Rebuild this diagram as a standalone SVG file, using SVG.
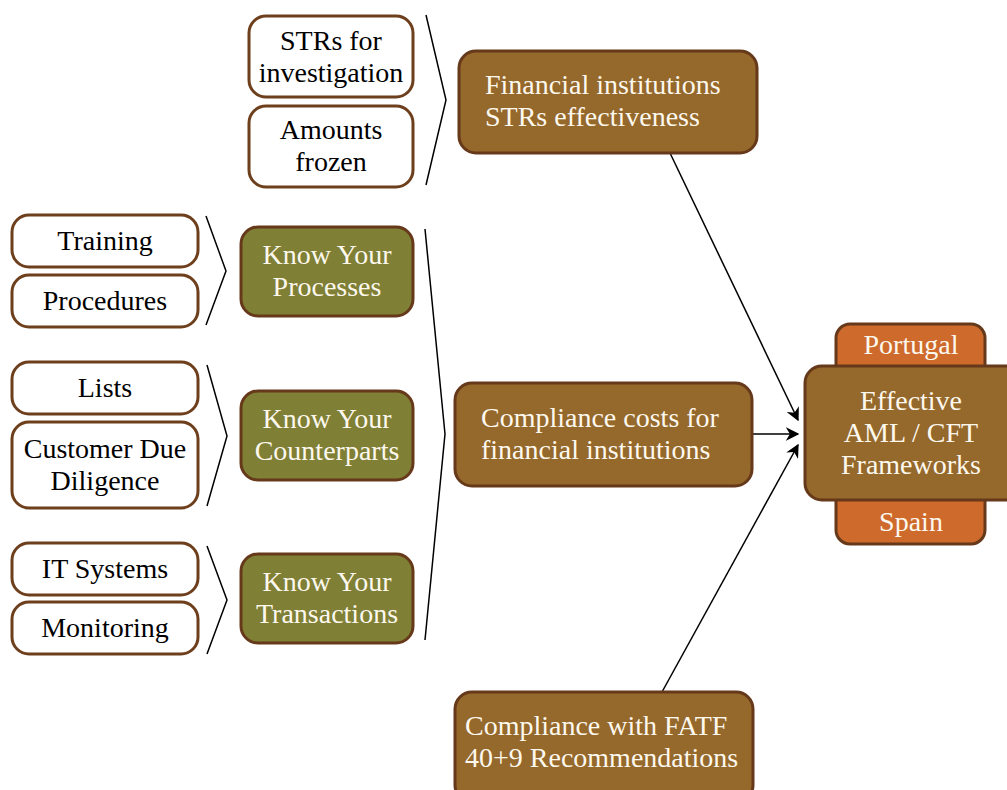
<svg xmlns="http://www.w3.org/2000/svg" width="1007" height="790" viewBox="0 0 1007 790">
<defs>
<style>
.w{fill:#ffffff;stroke:#6e3f1c;stroke-width:3}
.b{fill:#95682b;stroke:#66391a;stroke-width:3}
.g{fill:#7f7f35;stroke:#66391a;stroke-width:3}
.o{fill:#cd6a2c;stroke:#66391a;stroke-width:3}
text{font-family:"Liberation Serif","Times New Roman",serif;font-size:28px}
.tk{fill:#000000;text-anchor:middle}
.tw{fill:#fdf8ee;text-anchor:middle}
.tl{fill:#fdf8ee;text-anchor:start}
.br{fill:none;stroke:#000000;stroke-width:1.5}
.ar{fill:none;stroke:#000000;stroke-width:1.5;marker-end:url(#ah)}
</style>
<marker id="ah" viewBox="0 0 10 10" refX="9" refY="5" markerWidth="9" markerHeight="9" orient="auto" markerUnits="strokeWidth">
<path d="M0,0 L10,5 L0,10 L3,5 z" fill="#000000"/>
</marker>
</defs>
<rect width="1007" height="790" fill="#ffffff"/>

<g id="connectors">
<polyline class="br" points="426,15 446,100 426,185"/>
<polyline class="br" points="206,216 226,271 206,325"/>
<polyline class="br" points="207,365 227,436 207,506"/>
<polyline class="br" points="207,546 227,600 207,654"/>
<polyline class="br" points="425,229 445,434 425,640"/>
<line class="ar" x1="670" y1="153" x2="798" y2="420"/>
<line class="ar" x1="752" y1="434" x2="798" y2="434"/>
<line class="ar" x1="662" y1="692" x2="798" y2="445"/>
</g>

<g id="strs-investigation">
<rect class="w" x="249" y="16" width="164" height="81" rx="17"/>
<text class="tk" x="331" y="50">STRs for</text>
<text class="tk" x="331" y="82">investigation</text>
</g>
<g id="amounts-frozen">
<rect class="w" x="249" y="106" width="164" height="81" rx="17"/>
<text class="tk" x="331" y="139">Amounts</text>
<text class="tk" x="331" y="171">frozen</text>
</g>
<g id="fi-strs">
<rect class="b" x="459" y="51" width="298" height="102" rx="17"/>
<text class="tl" x="485" y="94">Financial institutions</text>
<text class="tl" x="485" y="126">STRs effectiveness</text>
</g>

<g id="training">
<rect class="w" x="12" y="215" width="186" height="52" rx="17"/>
<text class="tk" x="105" y="250">Training</text>
</g>
<g id="procedures">
<rect class="w" x="12" y="275" width="186" height="52" rx="17"/>
<text class="tk" x="105" y="310">Procedures</text>
</g>
<g id="kyp">
<rect class="g" x="241" y="227" width="172" height="89" rx="17"/>
<text class="tw" x="327" y="264">Know Your</text>
<text class="tw" x="327" y="296">Processes</text>
</g>

<g id="lists">
<rect class="w" x="12" y="362" width="186" height="52" rx="17"/>
<text class="tk" x="105" y="397">Lists</text>
</g>
<g id="cdd">
<rect class="w" x="12" y="422" width="186" height="86" rx="17"/>
<text class="tk" x="105" y="458">Customer Due</text>
<text class="tk" x="105" y="490">Diligence</text>
</g>
<g id="kyc">
<rect class="g" x="241" y="391" width="172" height="89" rx="17"/>
<text class="tw" x="327" y="428">Know Your</text>
<text class="tw" x="327" y="460">Counterparts</text>
</g>

<g id="it-systems">
<rect class="w" x="12" y="543" width="186" height="52" rx="17"/>
<text class="tk" x="105" y="578">IT Systems</text>
</g>
<g id="monitoring">
<rect class="w" x="12" y="602" width="186" height="52" rx="17"/>
<text class="tk" x="105" y="637">Monitoring</text>
</g>
<g id="kyt">
<rect class="g" x="241" y="554" width="172" height="89" rx="17"/>
<text class="tw" x="327" y="591">Know Your</text>
<text class="tw" x="327" y="623">Transactions</text>
</g>

<g id="compliance-costs">
<rect class="b" x="455" y="383" width="297" height="103" rx="17"/>
<text class="tl" x="481" y="427">Compliance costs for</text>
<text class="tl" x="481" y="459">financial institutions</text>
</g>

<g id="fatf">
<rect class="b" x="455" y="692" width="298" height="110" rx="17"/>
<text class="tl" x="465" y="735">Compliance with FATF</text>
<text class="tl" x="465" y="767">40+9 Recommendations</text>
</g>

<g id="portugal">
<rect class="o" x="836" y="324" width="149" height="60" rx="14"/>
<text class="tw" x="911" y="354">Portugal</text>
</g>
<g id="spain">
<rect class="o" x="836" y="484" width="149" height="60" rx="14"/>
<text class="tw" x="911" y="531">Spain</text>
</g>
<g id="effective">
<rect class="b" x="805" y="366" width="220" height="134" rx="17"/>
<text class="tw" x="911" y="410">Effective</text>
<text class="tw" x="911" y="442">AML / CFT</text>
<text class="tw" x="911" y="474">Frameworks</text>
</g>
</svg>
